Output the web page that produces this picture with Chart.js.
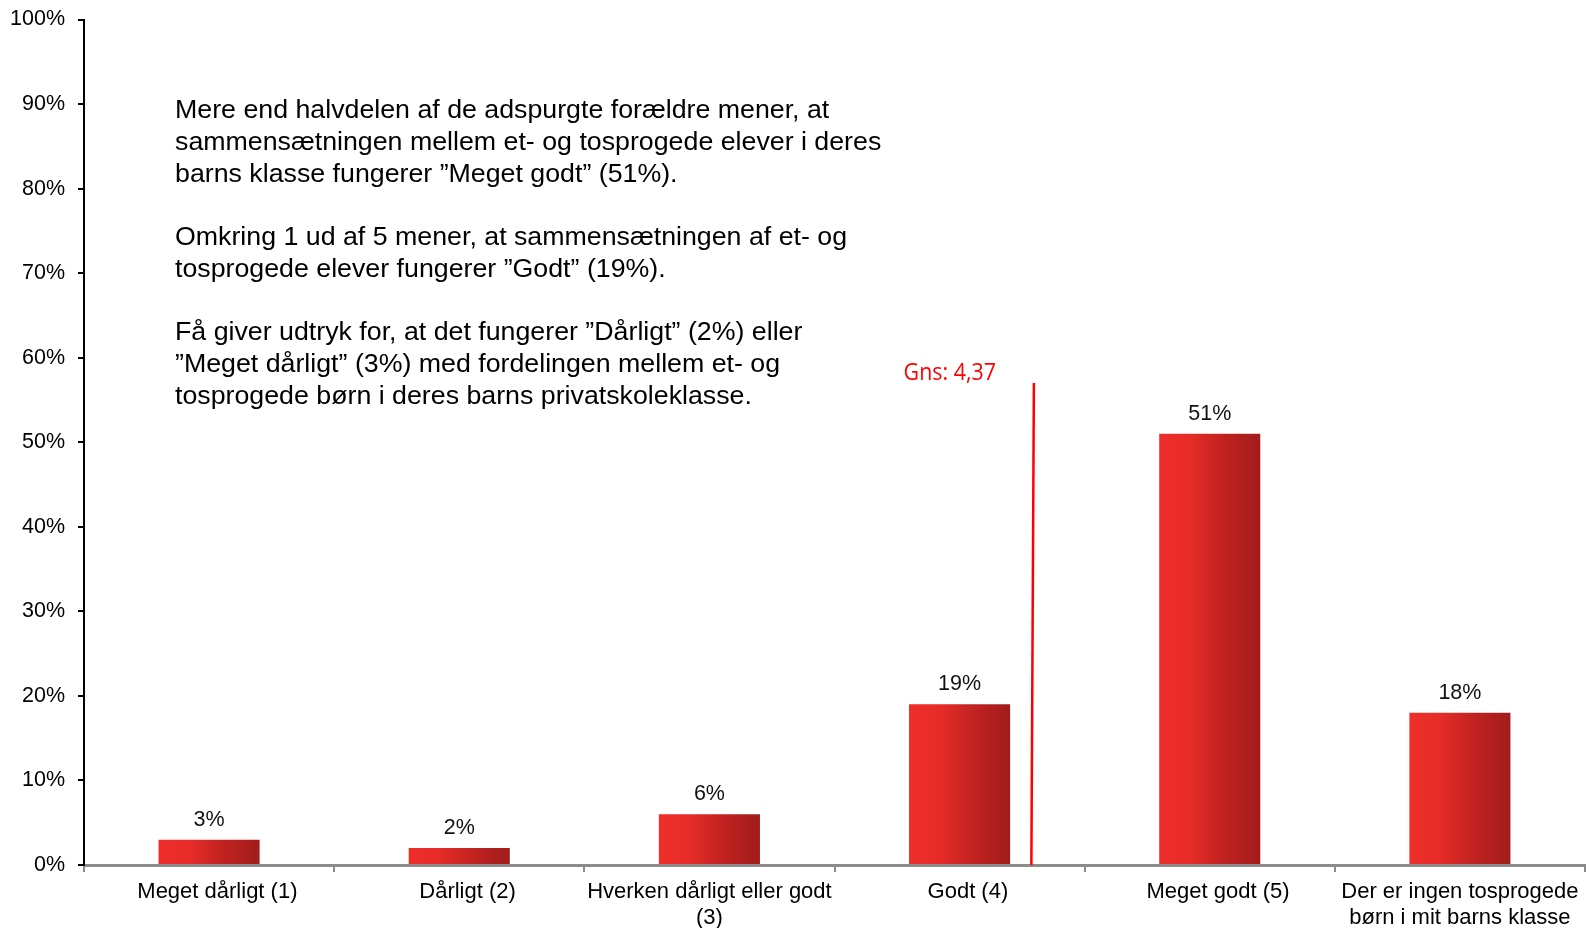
<!DOCTYPE html>
<html><head><meta charset="utf-8">
<script src="https://cdn.jsdelivr.net/npm/chart.js@4.4.1/dist/chart.umd.min.js"></script>
<style>html,body{margin:0;padding:0;background:#fff;} canvas{display:block;}</style>
</head><body>
<canvas id="c" width="1590" height="928"></canvas>
<script>
// ---- data ----
const categories = [
  ['Meget dårligt (1)'],
  ['Dårligt (2)'],
  ['Hverken dårligt eller godt', '(3)'],
  ['Godt (4)'],
  ['Meget godt (5)'],
  ['Der er ingen tosprogede', 'børn i mit barns klasse']
];
const shares = [3, 2, 6, 19, 51, 18];
const yMin = 0, yMax = 100, yStep = 10;
const averageText = 'Gns: 4,37';
// where the red average line sits on the category axis
const averageLineIndexTop = 3.297, averageLineIndexBottom = 3.287;
const averageLineTopValue = 57;
const commentary = [
  ['Mere end halvdelen af de adspurgte forældre mener, at',
   'sammensætningen mellem et- og tosprogede elever i deres',
   'barns klasse fungerer ”Meget godt” (51%).'],
  ['Omkring 1 ud af 5 mener, at sammensætningen af et- og',
   'tosprogede elever fungerer ”Godt” (19%).'],
  ['Få giver udtryk for, at det fungerer ”Dårligt” (2%) eller',
   '”Meget dårligt” (3%) med fordelingen mellem et- og',
   'tosprogede børn i deres barns privatskoleklasse.']
];

// ---- styling ----
const BAR_PCT = 0.404;
const FONT = '"Liberation Sans", Arial, sans-serif';

function barGradient(c) {
  const chart = c.chart, xs = chart.scales && chart.scales.x;
  if (!xs || !chart.chartArea || c.dataIndex === undefined) return '#E02A27';
  const cx = xs.getPixelForValue(c.dataIndex);
  const w = xs.width / categories.length * BAR_PCT;
  const g = chart.ctx.createLinearGradient(cx - w / 2, 0, cx + w / 2, 0);
  g.addColorStop(0, '#EF2E2A');
  g.addColorStop(0.3, '#E72C28');
  g.addColorStop(0.65, '#BF2220');
  g.addColorStop(1, '#A21C1C');
  return g;
}

const overlay = {
  id: 'overlay',
  afterDatasetsDraw(chart) {
    const ctx = chart.ctx;
    const xs = chart.scales.x, ys = chart.scales.y;
    // value labels
    ctx.save();
    ctx.fillStyle = '#111';
    ctx.font = '21.5px ' + FONT;
    ctx.textAlign = 'center';
    ctx.textBaseline = 'alphabetic';
    chart.getDatasetMeta(0).data.forEach((bar, i) => {
      ctx.fillText(shares[i] + '%', bar.x, bar.y - 14);
    });
    ctx.restore();

    // average line
    const xTop = xs.getPixelForValue(averageLineIndexTop);
    const xBot = xs.getPixelForValue(averageLineIndexBottom);
    const yTop = ys.getPixelForValue(averageLineTopValue);
    const yBot = ys.getPixelForValue(0);
    ctx.save();
    ctx.strokeStyle = '#FF0000';
    ctx.lineWidth = 2.5;
    ctx.beginPath();
    ctx.moveTo(xTop, yTop);
    ctx.lineTo(xBot, yBot);
    ctx.stroke();
    // average label
    ctx.fillStyle = '#FF0000';
    ctx.font = '23px "Open Sans", sans-serif';
    ctx.textAlign = 'right';
    ctx.textBaseline = 'alphabetic';
    ctx.translate(xTop - 38, yTop - 3);
    ctx.scale(0.93, 1);
    ctx.fillText(averageText, 0, 0);
    ctx.restore();

    // commentary text block
    ctx.save();
    ctx.fillStyle = '#000';
    ctx.font = '25px ' + FONT;
    ctx.textAlign = 'left';
    ctx.textBaseline = 'alphabetic';
    const left = 175, firstBase = 117.5, lineGap = 32, paraGap = 63;
    let y = firstBase;
    commentary.forEach((para) => {
      para.forEach((line, li) => {
        ctx.save();
        ctx.translate(left, y);
        ctx.scale(1.07, 1);
        ctx.fillText(line, 0, 0);
        ctx.restore();
        if (li < para.length - 1) y += lineGap;
      });
      y += paraGap;
    });
    ctx.restore();
  }
};

new Chart(document.getElementById('c'), {
  type: 'bar',
  data: {
    labels: categories,
    datasets: [{
      data: shares,
      backgroundColor: barGradient,
      borderWidth: 0,
      barPercentage: BAR_PCT,
      categoryPercentage: 1
    }]
  },
  options: {
    responsive: false,
    animation: false,
    devicePixelRatio: 1,
    layout: { padding: { top: 19.5, right: 5, left: 0, bottom: 0 } },
    plugins: { legend: { display: false }, tooltip: { enabled: false } },
    scales: {
      x: {
        afterFit(s) { s.height = 63; },
        grid: { offset: true, drawOnChartArea: false, drawTicks: true, tickLength: 7, color: '#8C8C8C', lineWidth: 2 },
        border: { display: true, color: '#8C8C8C', width: 3 },
        ticks: {
          color: '#000', font: { family: FONT, size: 22, lineHeight: 1.17 }, padding: 7, maxRotation: 0, autoSkip: false,
          // single-line labels sit a little right of the bar centre in the reference
          callback(v, i) { const l = categories[i]; return l.length === 1 ? '  \u2009' + l[0] : l; }
        }
      },
      y: {
        min: yMin, max: yMax,
        afterFit(s) { s.width = 84; s.paddingTop = 0; s.paddingBottom = 0; },
        grid: { drawOnChartArea: false, drawTicks: true, tickLength: 6, color: '#000', lineWidth: 2 },
        border: { display: true, color: '#000', width: 2 },
        ticks: { stepSize: yStep, color: '#000', font: { family: FONT, size: 21.5 }, padding: 13, callback: v => v + '%' }
      }
    }
  },
  plugins: [overlay]
});
</script>
</body></html>
